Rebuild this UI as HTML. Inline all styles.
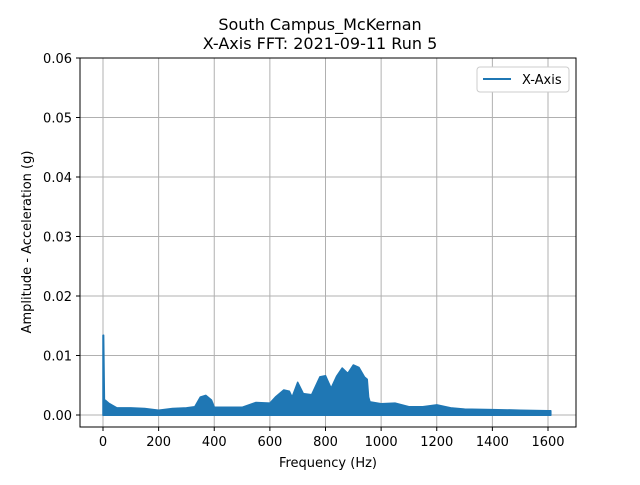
<!DOCTYPE html>
<html><head><meta charset="utf-8"><style>
body{margin:0;background:#fff}
svg{font-family:"DejaVu Sans","Liberation Sans",sans-serif}
</style></head><body>
<svg id="chart" width="640" height="480">
<rect width="640" height="480" fill="#fff"/>
<g id="grid"></g>
<g id="series"></g>
<rect x="80" y="58" width="496" height="369" fill="none" stroke="#000" stroke-width="1"/>
<g id="ticks" font-size="13"></g>
<text x="320" y="30" text-anchor="middle" font-size="16">South Campus_McKernan</text>
<text x="320" y="49" text-anchor="middle" font-size="16">X-Axis FFT: 2021-09-11 Run 5</text>
<text x="328" y="467" text-anchor="middle" font-size="13">Frequency (Hz)</text>
<text transform="translate(31,242) rotate(-90)" text-anchor="middle" font-size="13">Amplitude - Acceleration (g)</text>
<g>
<rect x="477" y="67" width="92" height="25" rx="3" fill="#fff" stroke="#ccc"/>
<line x1="483" y1="79" x2="511" y2="79" stroke="#1f77b4" stroke-width="2"/>
<text x="522" y="84" font-size="13">X-Axis</text>
</g>
</svg>
<script>
const freqs=[0,2,5,20,50,100,150,200,250,300,330,350,370,390,400,450,500,550,600,620,650,670,680,700,720,750,780,800,820,840,860,880,900,920,940,950,955,960,1000,1050,1100,1150,1200,1250,1300,1400,1500,1600,1610];
const amps=[0.0134,0.0134,0.0026,0.0020,0.0012,0.0012,0.0011,0.0008,0.0011,0.0012,0.0014,0.0030,0.0033,0.0025,0.0013,0.0013,0.0013,0.0021,0.0020,0.0030,0.0042,0.0040,0.0030,0.0055,0.0036,0.0034,0.0064,0.0066,0.0045,0.0065,0.0079,0.0070,0.0084,0.0080,0.0064,0.0060,0.0030,0.0022,0.0019,0.0020,0.0014,0.0014,0.0017,0.0012,0.0010,0.0009,0.0008,0.0007,0.0007];
const xTicks=[0,200,400,600,800,1000,1200,1400,1600];
const yTicks=[0,0.01,0.02,0.03,0.04,0.05,0.06];
const yTickLabels=["0.00","0.01","0.02","0.03","0.04","0.05","0.06"];
const NS="http://www.w3.org/2000/svg";
function xs(f){return 103+f*(445/1600);}
function ys(v){return 415-v*(357/0.06);}
const grid=document.getElementById('grid'),ticks=document.getElementById('ticks'),series=document.getElementById('series');
function mk(tag,attrs,parent){const e=document.createElementNS(NS,tag);for(const k in attrs)e.setAttribute(k,attrs[k]);parent.appendChild(e);return e;}
xTicks.forEach(t=>{const x=xs(t);
 const g=mk('line',{x1:x,x2:x,y1:58,y2:427,stroke:'#b0b0b0','stroke-width':1},grid);
 
 
 const tk=mk('line',{x1:x,x2:x,y1:427,y2:431,stroke:'#000'},ticks);
 
 
 const l=mk('text',{x:x,y:446,'text-anchor':'middle'},ticks);l.textContent=t;
 
 
});
yTicks.forEach((t,i)=>{const y=ys(t);
 const g=mk('line',{x1:80,x2:576,y1:y,y2:y,stroke:'#b0b0b0','stroke-width':1},grid);
 
 
 const tk=mk('line',{x1:76,x2:80,y1:y,y2:y,stroke:'#000'},ticks);
 
 
 const l=mk('text',{x:72,y:y+5,'text-anchor':'end'},ticks);l.textContent=yTickLabels[i];
 
 
});
let pts=freqs.map((f,i)=>xs(f).toFixed(1)+','+ys(amps[i]).toFixed(1));
pts.push(xs(freqs[freqs.length-1]).toFixed(1)+','+ys(-0.00005).toFixed(1));
pts.push(xs(0).toFixed(1)+','+ys(-0.00005).toFixed(1));
const poly=mk('polygon',{points:pts.join(' '),fill:'#1f77b4',stroke:'#1f77b4','stroke-width':1.5,'stroke-linejoin':'round'},series);


</script>
</body></html>
